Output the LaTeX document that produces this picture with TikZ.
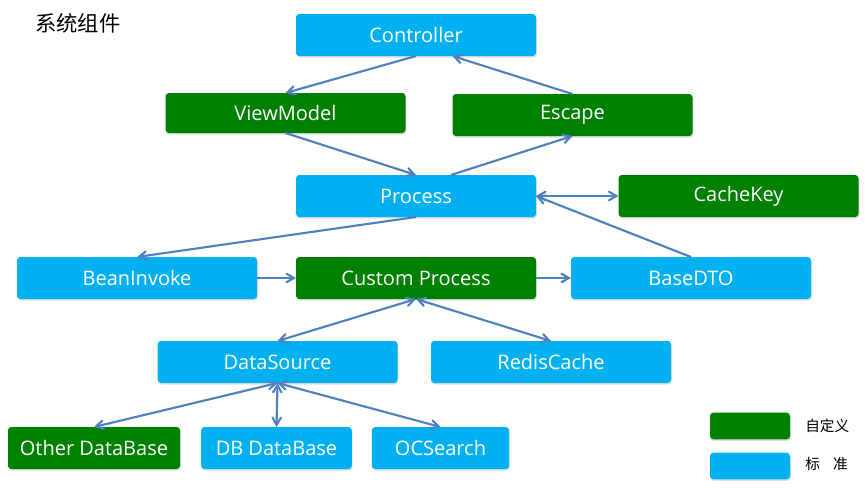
\documentclass[tikz,border=0pt]{standalone}
\usepackage{fontspec}
\setmainfont{Open Sans}
\newfontfamily\cjk{Noto Sans CJK SC}
\usetikzlibrary{arrows,positioning,shadows}

\definecolor{stdblue}{RGB}{0,176,240}
\definecolor{owngreen}{RGB}{0,128,0}
\definecolor{linkblue}{RGB}{79,129,189}

\tikzset{
  box/.style={rounded corners=2.5pt, minimum width=180pt, minimum height=31.5pt,
    inner sep=0pt, outer sep=0pt, text=white, font=\fontsize{15}{18}\selectfont,
    drop shadow={opacity=0.25, shadow xshift=0.6pt, shadow yshift=-1.2pt}},
  bluebox/.style={box, fill=stdblue},
  greenbox/.style={box, fill=owngreen},
  legendbox/.style={minimum width=60pt, minimum height=20pt},
  legendtext/.style={font=\cjk\fontsize{11}{13}\selectfont, anchor=west, inner sep=0pt},
  link/.style={draw=linkblue, line width=1.6pt, >=angle 60},
}

\begin{document}
\begin{tikzpicture}[x=0.75pt,y=-0.75pt]
\useasboundingbox (0,0) rectangle (865,489);

\node[font=\cjk\fontsize{16}{18}\selectfont] (title) at (78,23) {系统组件};

% top layer
\node[bluebox] (controller) at (416,35) {Controller};
\node[greenbox, minimum height=30pt] (viewmodel) at (285.5,113) {ViewModel};
\node[greenbox] (escape) at (572.5,115) {Escape};

% middle layer
\node[bluebox] (process) at (416,196) {Process};
\node[greenbox] (cachekey) at (738.5,196) {CacheKey};

\node[bluebox] (beaninvoke) at (137,278) {BeanInvoke};
\node[greenbox] (custom) at (416,278) {Custom Process};
\node[bluebox] (basedto) at (691,278) {BaseDTO};

\node[bluebox] (datasource) at (277.5,362) {DataSource};
\node[bluebox] (rediscache) at (551,362) {RedisCache};

% storage
\node[greenbox, minimum width=129pt] (otherdb) at (94,448) {Other DataBase};
\node[bluebox, minimum width=113pt] (dbdb) at (276.5,448) {DB DataBase};
\node[bluebox, minimum width=103pt] (ocsearch) at (440.5,448) {OCSearch};

% legend
\node[greenbox, legendbox] (legcustom) at (750,426) {};
\node[bluebox, legendbox] (legstd) at (750,466) {};
\node[legendtext] (legcustomtext) at (805,426) {自定义};
\node[legendtext] (legstdtext) at (805,464) {标\hspace{0.9em}准};

% connectors
\draw[link,->] (controller.south) -- (viewmodel.north);
\draw[link,->] (escape.north) -- (controller.330);
\draw[link,->] (viewmodel.south) -- (process.north);
\draw[link,->] (process.31) -- (escape.south);
\draw[link,<->] (process.east) -- (cachekey.west);
\draw[link,->] (basedto.north) -- (process.east);
\draw[link,->] (process.south) -- (beaninvoke.north);
\draw[link,->] (beaninvoke.east) -- (custom.west);
\draw[link,->] (custom.east) -- (basedto.west);
\draw[link,<->] (custom.south) -- (datasource.north);
\draw[link,<->] (custom.south) -- (rediscache.north);
\draw[link,<->] (datasource.south) -- (otherdb.north);
\draw[link,<->] (datasource.south) -- (dbdb.north);
\draw[link,<->] (datasource.south) -- (ocsearch.north);
\end{tikzpicture}
\end{document}
